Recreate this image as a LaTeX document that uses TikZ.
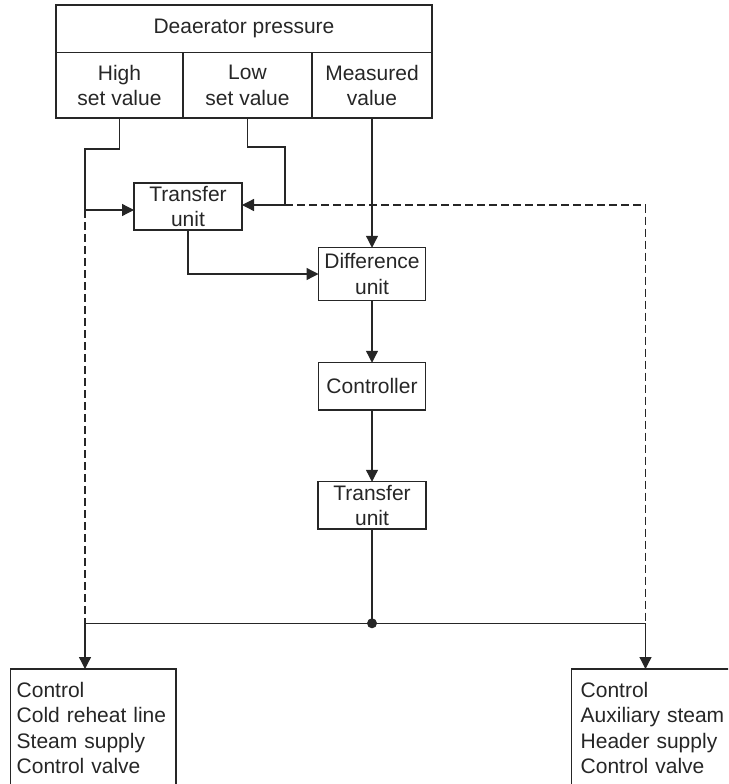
\documentclass[tikz,border=0pt]{standalone}
\usepackage{fontspec}
\setmainfont{Liberation Sans}
\usetikzlibrary{arrows.meta}

\begin{document}
\begin{tikzpicture}[x=1pt, y=-1pt, line width=1.3pt, color=black!85,
  font=\fontsize{21}{25.5}\selectfont,
  box/.style={draw, rectangle, inner sep=0pt, outer sep=0pt, align=center},
  outbox/.style={draw, rectangle, anchor=north west, align=left, outer sep=0pt,
    inner xsep=6pt, inner ysep=13pt, text depth=100pt},
  arr/.style={-{Triangle[length=12pt, width=12pt]}},
  feedback/.style={dash pattern=on 8pt off 4pt}]
  \useasboundingbox (0,0) rectangle (728,784);
  \clip (0,0) rectangle (728,784);
  % pressure table
  \node[box, minimum width=376pt, minimum height=47.7pt] (dp) at (244,28.9) {Deaerator pressure};
  \node[box, minimum width=127pt, minimum height=65.3pt] (high) at (119.5,85.3) {High\\set value};
  \node[box, minimum width=129pt, minimum height=65.3pt] (low) at (247.5,85.3) {Low\\set value};
  \node[box, minimum width=120pt, minimum height=65.3pt] (meas) at (372,85.3) {Measured\\value};
  % units
  \node[box, minimum width=108pt, minimum height=47pt] (tu1) at (188,206.5) {Transfer\\unit};
  \node[box, minimum width=107pt, minimum height=52.5pt] (diff) at (372,274) {Difference\\unit};
  \node[box, minimum width=107pt, minimum height=47.3pt] (ctrl) at (372,386.4) {Controller};
  \node[box, minimum width=108pt, minimum height=47.3pt] (tu2) at (372,505.4) {Transfer\\unit};
  % valves
  \node[outbox, text width=153.3pt] (lvalve) at (10.7,669) {Control\\Cold reheat line\\Steam supply\\Control valve};
  \node[outbox, text width=170pt, inner xsep=9pt] (rvalve) at (571.7,669) {Control\\Auxiliary steam\\Header supply\\Control valve};

  \coordinate (hsplit) at (85,210);
  \coordinate (lsplit) at (285,205);
  \coordinate (jl) at (85,623.3);
  \coordinate (jr) at (645.5,623.3);
  \coordinate (jn) at (tu2.south |- jl);

  \draw (high.south) -- ++(0,31) -| (hsplit);
  \draw[arr] (hsplit) -- (tu1.west |- hsplit);
  \draw[feedback] (hsplit) -- (jl);
  \draw (low.south) -- ++(0,29) -| (lsplit);
  \draw[arr] (lsplit) -- (tu1.east |- lsplit);
  \draw[feedback] (lsplit) -| (jr);
  \draw[arr] (meas.south) -- (diff.north);
  \draw[arr] (tu1.south) |- (diff.west);
  \draw[arr] (diff) -- (ctrl);
  \draw[arr] (ctrl) -- (tu2);
  \draw (tu2.south) -- (jn);
  \fill (jn) circle (5);
  \draw (jl) -- (jr);
  \draw[arr] (jl) -- (lvalve.north -| jl);
  \draw[arr] (jr) -- (rvalve.north -| jr);
\end{tikzpicture}
\end{document}
